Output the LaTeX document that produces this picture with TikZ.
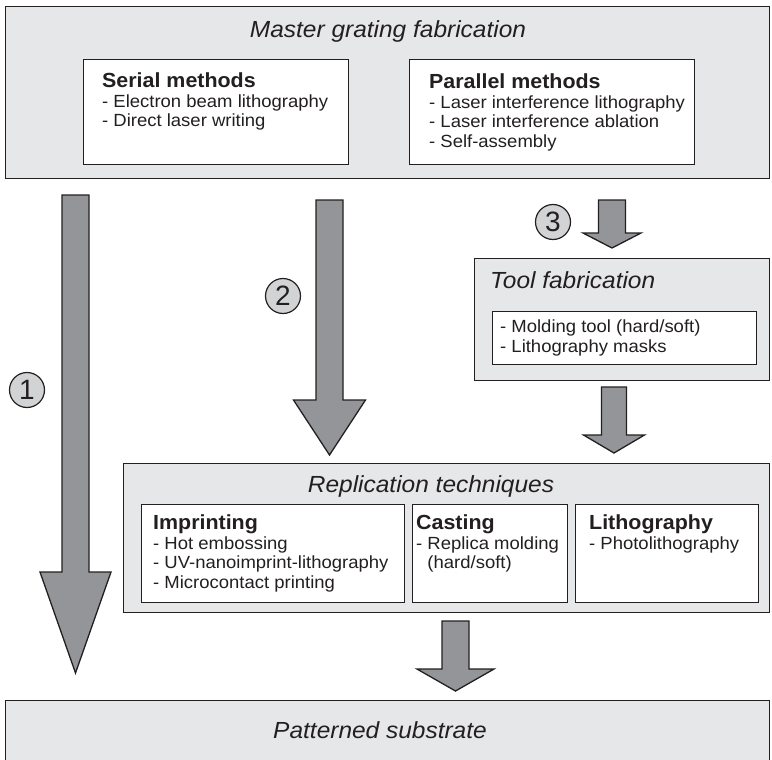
\documentclass[tikz,border=0pt]{standalone}
\usepackage{fontspec}
\setmainfont{Liberation Sans}
\newfontfamily\widesans[FakeStretch=1.05]{Liberation Sans}
\usepackage{tikz}
\usetikzlibrary{calc}

\definecolor{boxgray}{HTML}{E6E7E8}
\definecolor{arrowgray}{HTML}{939598}
\definecolor{circgray}{HTML}{D1D3D4}
\definecolor{ink}{HTML}{231F20}

\newcommand{\itemfont}{\widesans\fontsize{17.6}{19.5}\selectfont}
\newcommand{\headfont}{\widesans\bfseries\fontsize{20.4}{22}\selectfont}
\newcommand{\titlefont}{\widesans\itshape\fontsize{23.3}{26}\selectfont}

% block arrow: top, tip, shaft half width, head half width, head length
\newcommand{\fatarrow}[5]{%
  \draw[fatarrow] let \p1=(#1), \p2=(#2) in
    (\x1-#3pt,\y1) -- (\x1+#3pt,\y1) -- (\x1+#3pt,\y2+#5pt) -- (\x1+#4pt,\y2+#5pt)
    -- (\x2,\y2) -- (\x1-#4pt,\y2+#5pt) -- (\x1-#3pt,\y2+#5pt) -- cycle;}

\begin{document}
\begin{tikzpicture}[
        x=1pt, y=-1pt,
        mainbox/.style={draw=ink, fill=boxgray, line width=1.4pt, rectangle, inner sep=0pt, anchor=north west},
        listbox/.style={draw=ink, fill=white, line width=1.4pt, rectangle, inner sep=0pt, anchor=north west},
        txt/.style={anchor=north west, inner sep=0pt, align=left, font=\itemfont, text=ink},
        title/.style={inner sep=0pt, font=\titlefont, text=ink},
        circ/.style={circle, draw=ink, fill=circgray, line width=1.2pt, minimum size=35pt, inner sep=0pt, text=ink, font=\fontsize{28}{28}\selectfont},
        fatarrow/.style={draw=ink, fill=arrowgray, line width=1.3pt, line join=miter}
    ]
        \useasboundingbox (0,0) rectangle (772,760);

        % master grating
        \node[mainbox, minimum width=764pt, minimum height=172pt] (master) at (5,6) {};
        \node[title, anchor=base] (mastertitle) at (388,38) {Master grating fabrication};
        \node[listbox, minimum width=265pt, minimum height=105pt] (serial) at (83,59) {};
        \node[txt] (serialtxt) at (102,73) {{\headfont Serial methods}\\- Electron beam lithography\\- Direct laser writing};
        \node[listbox, minimum width=285pt, minimum height=105pt] (parallel) at (409,59) {};
        \node[txt] (paralleltxt) at (429,74) {{\headfont Parallel methods}\\- Laser interference lithography\\- Laser interference ablation\\- Self-assembly};

        % tool fabrication
        \node[mainbox, minimum width=295pt, minimum height=122pt] (tool) at (474,258) {};
        \node[title, anchor=base west] (tooltitle) at (490,288) {Tool fabrication};
        \node[listbox, minimum width=264pt, minimum height=53pt] (toollist) at (492,311) {};
        \node[txt] (tooltxt) at (500,320) {- Molding tool (hard/soft)\\- Lithography masks};

        % replication
        \node[mainbox, minimum width=646pt, minimum height=149pt] (repl) at (123,463) {};
        \node[title, anchor=base] (repltitle) at (431,492) {Replication techniques};
        \node[listbox, minimum width=263pt, minimum height=98pt] (imprint) at (141,504) {};
        \node[txt] (imprinttxt) at (153,515) {{\headfont Imprinting}\\- Hot embossing\\- UV-nanoimprint-lithography\\- Microcontact printing};
        \node[listbox, minimum width=155pt, minimum height=98pt] (casting) at (412,504) {};
        \node[txt] (castingtxt) at (416,515) {{\headfont Casting}\\- Replica molding\\\phantom{- }(hard/soft)};
        \node[listbox, minimum width=183pt, minimum height=98pt] (litho) at (575,504) {};
        \node[txt] (lithotxt) at (589,515) {{\headfont Lithography}\\- Photolithography};

        % result
        \node[mainbox, minimum width=764pt, minimum height=63pt] (subst) at (5,700) {};
        \node[title, anchor=base] (substtitle) at (380,738) {Patterned substrate};

        % routes
        \coordinate (a1top) at (75.5,195);  \coordinate (a1tip) at (75.5,673);
        \coordinate (a2top) at (329.5,200); \coordinate (a2tip) at (329.5,455);
        \coordinate (a3top) at (612,200);   \coordinate (a3tip) at (612,248);
        \coordinate (a4top) at (614,387);   \coordinate (a4tip) at (614,453);
        \coordinate (a5top) at (455.5,621); \coordinate (a5tip) at (455.5,691);
        \fatarrow{a1top}{a1tip}{13.5}{35.5}{101}
        \fatarrow{a2top}{a2tip}{13.5}{36}{55}
        \fatarrow{a3top}{a3tip}{13.5}{29}{15}
        \fatarrow{a4top}{a4tip}{12.5}{30.5}{18}
        \fatarrow{a5top}{a5tip}{13.5}{38.5}{22}

        \node[circ] (c1) at (27,390) {1};
        \node[circ] (c2) at (283,296) {2};
        \node[circ] (c3) at (553,222) {3};
    \end{tikzpicture}
\end{document}
